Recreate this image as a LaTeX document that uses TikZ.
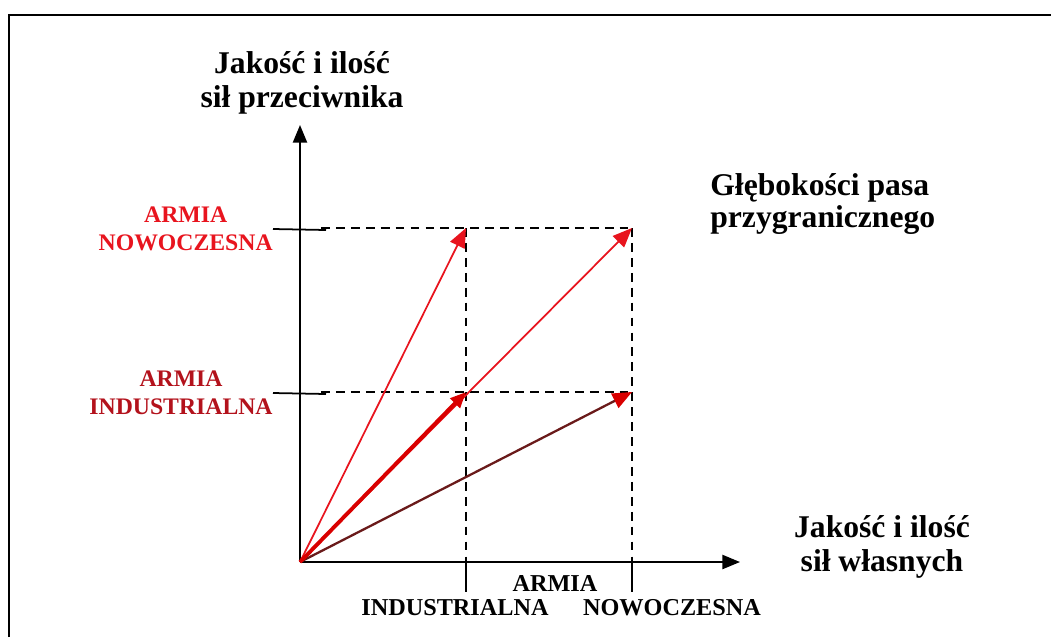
\documentclass[tikz,border=0pt]{standalone}
\usepackage{fontspec}
\setmainfont{Liberation Serif}
\usetikzlibrary{arrows.meta}
\definecolor{jasnyczerw}{HTML}{E8141E}
\definecolor{ciemnyczerw}{HTML}{B3121C}
\definecolor{bordo}{HTML}{6A1A1A}

\begin{document}
\begin{tikzpicture}[x=0.02cm,y=-0.02cm,>=Latex,
    tyt/.style={font=\bfseries\fontsize{18}{19}\selectfont,align=center,inner sep=0pt},
    lab/.style={font=\bfseries\fontsize{13.5}{16}\selectfont,align=center,inner sep=0pt},
    przer/.style={line width=0.8pt,dash pattern=on 5pt off 3.5pt},
    wek/.style={-{Triangle[length=11pt,width=9pt]}}]

\useasboundingbox (0,0) rectangle (1051,637);

% Frame
\draw[line width=1.1pt] (9,637) -- (9,15) -- (1051,15);

% Points
\coordinate (O) at (300,562);
\coordinate (xI) at (466,562);
\coordinate (xN) at (632,562);
\coordinate (yI) at (300,392);
\coordinate (yN) at (300,228);

% Axes
\draw[line width=1.1pt,-{Triangle[length=10pt,width=8pt]}] (O) -- (740,562) coordinate (xk);
\draw[line width=1.1pt,-{Triangle[length=10pt,width=8pt]}] (O) -- (300,125) coordinate (yk);

% Guide lines
\draw[przer] (321,228) -- (xN |- yN);
\draw[przer] (321,392) -- (xN |- yI);
\foreach \p in {xI,xN}{
    \draw[przer] (\p |- yN) -- (\p);
    \draw[line width=1pt] (\p) -- ++(0,30);
}

% Vectors
\draw[wek,jasnyczerw,line width=1pt] (O) -- (xI |- yN);
\draw[wek,jasnyczerw,line width=1pt] (O) -- (xN |- yN);
\draw[bordo,line width=1.3pt,-{Triangle[length=11pt,width=9pt,color=red!85!black]}]
    (O) -- (xN |- yI);
\draw[red!85!black,line width=2.2pt,-{Triangle[length=9pt,width=7.5pt]}] (O) -- (xI |- yI);

% Axis titles
\node[tyt] (ty) at (302,83) {Jakość i ilość\\sił przeciwnika};
\node[tyt] (tx) at (882,547) {Jakość i ilość\\sił własnych};
\node[tyt,align=left,anchor=west,font=\bfseries\fontsize{18}{18.5}\selectfont]
    (pas) at (710,204) {Głębokości pasa\\przygranicznego};

% Left labels
\node[lab,text=jasnyczerw,anchor=east] (lN) at (273,229) {ARMIA\\NOWOCZESNA};
\node[lab,text=ciemnyczerw,anchor=east] (lI) at (273,393) {ARMIA\\INDUSTRIALNA};
\draw[line width=1pt] (lN.east) -- (326,230);
\draw[line width=1pt] (lI.east) -- (326,394);

% Bottom labels
\node[lab,font=\bfseries\fontsize{13.8}{16}\selectfont] (bA) at (555,583) {ARMIA};
\node[lab,font=\bfseries\fontsize{13.8}{16}\selectfont] (bI) at (455,608) {INDUSTRIALNA};
\node[lab,font=\bfseries\fontsize{13.8}{16}\selectfont] (bN) at (672,608) {NOWOCZESNA};

\end{tikzpicture}
\end{document}
